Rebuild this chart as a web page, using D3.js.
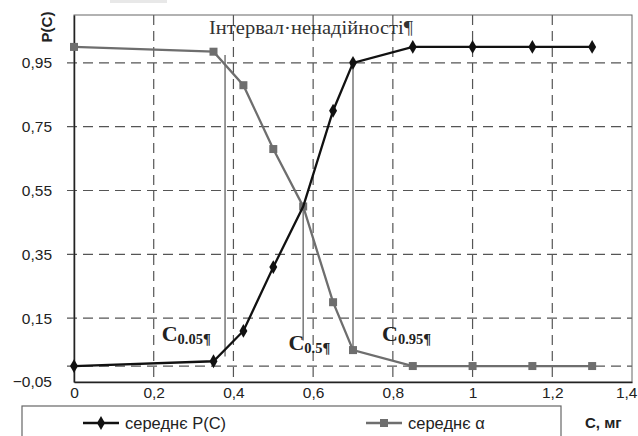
<!DOCTYPE html>
<html><head><meta charset="utf-8">
<script src="https://cdn.jsdelivr.net/npm/d3@7"></script>
<style>
html,body{margin:0;padding:0;background:#fff;}
svg{display:block;}
</style></head>
<body>
<svg id="chart" width="638" height="436"></svg>
<script>
const concentrations = [0, 0.35, 0.425, 0.5, 0.575, 0.65, 0.7, 0.85, 1.0, 1.15, 1.3];
const pValues        = [0, 0.015, 0.11, 0.31, 0.5, 0.8, 0.95, 1.0, 1.0, 1.0, 1.0];
const alphaValues    = [1.0, 0.985, 0.88, 0.68, 0.5, 0.2, 0.05, 0.0, 0.0, 0.0, 0.0];
const xTicks = [0, 0.2, 0.4, 0.6, 0.8, 1.0, 1.2, 1.4];
const yTicks = [-0.05, 0.15, 0.35, 0.55, 0.75, 0.95];
const extraGridY = [0];
const criticalPoints = [
  {c: 0.379, low: 0.03, high: 0.975, label: "C", sub: "0.05¶", lx: 0.22, ly: 0.08},
  {c: 0.575, low: 0.08, high: 0.5,   label: "C", sub: "0.5¶",  lx: 0.538, ly: 0.05},
  {c: 0.70,  low: 0.05, high: 0.95,  label: "C", sub: "0.95¶", lx: 0.773, ly: 0.08}
];
const seriesNames = ["середнє P(C)", "середнє α"];
const intervalTitle = "Інтервал·ненадійності¶";
const yTitle = "P(C)";
const xTitle = "С, мг";

const svg = d3.select("#chart");
const x = d3.scaleLinear().domain([0, 1.4]).range([74, 632]);
const y = d3.scaleLinear().domain([-0.05, 1.1]).range([382, 15]);
const fmt = d => d3.format(",.2~f")(d).replace(".", ",");

// faint top artifact
svg.append("rect").attr("x",110).attr("y",0).attr("width",57).attr("height",3).attr("fill","#e8e8e8");

// gridlines
const grid = svg.append("g");
grid.selectAll(".gx").data(xTicks.filter(d => d > 0 && d < 1.4)).join("line")
  .attr("x1", d => x(d)).attr("x2", d => x(d)).attr("y1", y(1.1)).attr("y2", y(-0.05))
  .attr("stroke", "#555").attr("stroke-width", 1.2).attr("stroke-dasharray", "10,6");
grid.selectAll(".gy").data(yTicks.filter(d => d > -0.05).concat(extraGridY)).join("line")
  .attr("x1", 67).attr("x2", x(1.4)).attr("y1", d => y(d)).attr("y2", d => y(d))
  .attr("stroke", "#555").attr("stroke-width", 1.2).attr("stroke-dasharray", "10,6");

// frame
svg.append("rect").attr("x", x(0)).attr("y", y(1.1)).attr("width", x(1.4) - x(0)).attr("height", y(-0.05) - y(1.1))
  .attr("fill", "none").attr("stroke", "#666").attr("stroke-width", 1);

// axes
const yAxis = d3.axisLeft(y).tickValues(yTicks).tickFormat(fmt).tickSize(0).tickPadding(22);
const gy = svg.append("g").attr("transform", `translate(${x(0)},0)`).call(yAxis);
gy.select(".domain").attr("stroke", "#222").attr("stroke-width", 1.5);
gy.selectAll("text").attr("font-family", "Liberation Sans, Arial, sans-serif").attr("font-size", 15.5).attr("fill", "#222");

const xAxis = d3.axisBottom(x).tickValues(xTicks).tickFormat(fmt).tickSize(0).tickPadding(5);
const gx = svg.append("g").attr("transform", `translate(0,${y(-0.05)})`).call(xAxis);
gx.select(".domain").attr("stroke", "#222").attr("stroke-width", 1.5);
gx.selectAll("text").attr("font-family", "Liberation Sans, Arial, sans-serif").attr("font-size", 15.5).attr("fill", "#222");
gx.selectAll(".tick").filter(d => d === 1.4).select("text").attr("text-anchor", "end").attr("x", 5);

// critical vertical lines
svg.append("g").selectAll("line").data(criticalPoints).join("line")
  .attr("x1", d => x(d.c)).attr("x2", d => x(d.c)).attr("y1", d => y(d.high)).attr("y2", d => y(d.low))
  .attr("stroke", "#777").attr("stroke-width", 1.5);

// series
const line = d3.line().x(d => x(d[0])).y(d => y(d[1]));
const alphaData = concentrations.map((c, i) => [c, alphaValues[i]]);
const pData = concentrations.map((c, i) => [c, pValues[i]]);

svg.append("path").datum(alphaData).attr("d", line).attr("fill", "none").attr("stroke", "#6e6e6e").attr("stroke-width", 2.3);
svg.append("g").selectAll("rect").data(alphaData).join("rect")
  .attr("x", d => x(d[0]) - 4).attr("y", d => y(d[1]) - 4).attr("width", 8).attr("height", 8).attr("fill", "#6e6e6e");

svg.append("path").datum(pData).attr("d", line).attr("fill", "none").attr("stroke", "#111").attr("stroke-width", 2.3);
const diamond = d3.symbol().type(d3.symbolDiamond).size(55);
svg.append("g").selectAll("path").data(pData.filter(d => d[0] !== 0.575)).join("path")
  .attr("d", diamond).attr("transform", d => `translate(${x(d[0])},${y(d[1])})`).attr("fill", "#111");

// annotations
svg.append("text").attr("x", 209).attr("y", 34).attr("font-family", "Liberation Serif, Times New Roman, serif")
  .attr("font-size", 18).attr("textLength", 204).attr("lengthAdjust", "spacingAndGlyphs").attr("fill", "#333").text(intervalTitle);

const lab = svg.append("g").selectAll("text").data(criticalPoints).join("text")
  .attr("x", d => x(d.lx)).attr("y", d => y(d.ly))
  .attr("font-family", "Liberation Serif, Times New Roman, serif").attr("font-weight", "bold").attr("fill", "#222");
lab.append("tspan").attr("font-size", 22).text(d => d.label);
lab.append("tspan").attr("font-size", 14.5).attr("dy", 3).text(d => d.sub);

// axis titles
svg.append("text").attr("transform", "translate(52,27) rotate(-90)").attr("text-anchor", "middle")
  .attr("font-family", "Liberation Sans, Arial, sans-serif").attr("font-weight", "bold").attr("font-size", 15).attr("fill", "#222").text(yTitle);
svg.append("text").attr("x", 585).attr("y", 428)
  .attr("font-family", "Liberation Sans, Arial, sans-serif").attr("font-weight", "bold").attr("font-size", 15).attr("fill", "#222").text(xTitle);

// legend
svg.append("rect").attr("x", 22).attr("y", 406).attr("width", 539).attr("height", 50).attr("fill", "none").attr("stroke", "#666").attr("stroke-width", 1.2);
const leg = [
  {x0: 83, color: "#111", shape: "diamond"},
  {x0: 366, color: "#6e6e6e", shape: "square"}
];
leg.forEach((l, i) => {
  const g = svg.append("g");
  g.append("line").attr("x1", l.x0).attr("x2", l.x0 + 36).attr("y1", 423).attr("y2", 423).attr("stroke", l.color).attr("stroke-width", 2.3);
  if (l.shape === "diamond") {
    g.append("path").attr("d", diamond).attr("transform", `translate(${l.x0 + 18},423)`).attr("fill", l.color);
  } else {
    g.append("rect").attr("x", l.x0 + 14).attr("y", 419).attr("width", 8).attr("height", 8).attr("fill", l.color);
  }
  g.append("text").attr("x", l.x0 + 42).attr("y", 429).attr("font-family", "Liberation Sans, Arial, sans-serif")
    .attr("font-size", 16.5).attr("fill", "#222").text(seriesNames[i]);
});
</script>
</body></html>
